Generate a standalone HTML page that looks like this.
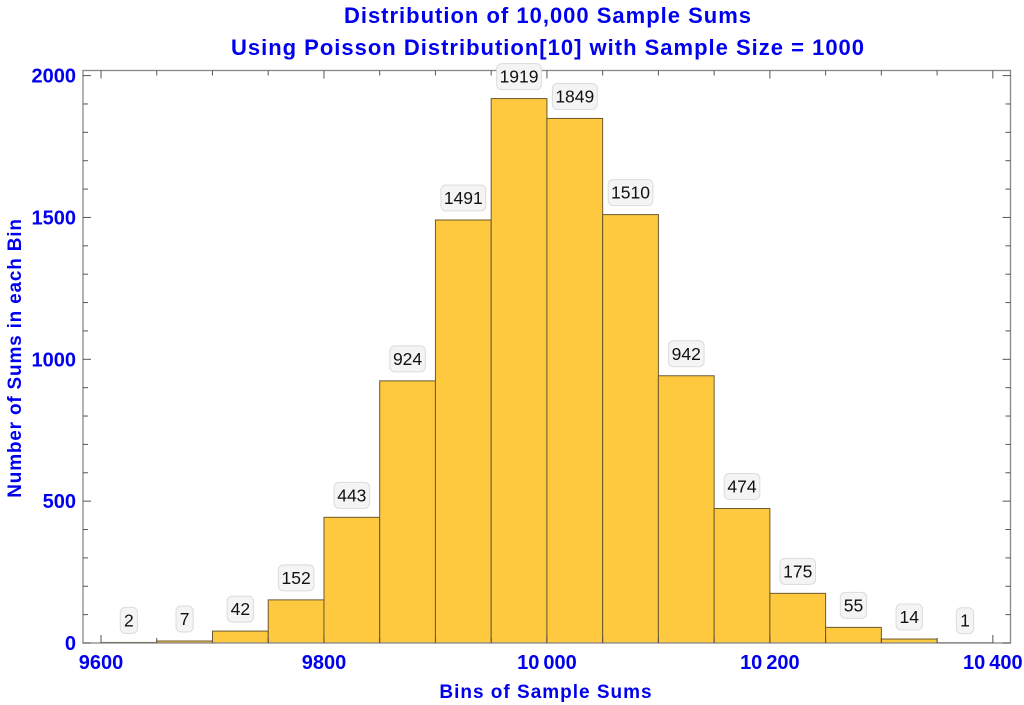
<!DOCTYPE html>
<html><head><meta charset="utf-8"><style>
body{margin:0;background:#fff;}
svg{display:block;font-family:"Liberation Sans",Arial,sans-serif;}
</style></head><body>
<svg id="s" width="1024" height="705" xmlns="http://www.w3.org/2000/svg">
<rect x="0" y="0" width="1024" height="705" fill="#fff"/>
<text x="548" y="23" text-anchor="middle" font-size="22" font-weight="bold" letter-spacing="1" fill="#0000ee">Distribution of 10,000 Sample Sums</text>
<text x="548" y="55" text-anchor="middle" font-size="22" font-weight="bold" letter-spacing="1" fill="#0000ee">Using Poisson Distribution[10] with Sample Size = 1000</text>
<text x="546" y="698" text-anchor="middle" font-size="19" font-weight="bold" letter-spacing="1" fill="#0000ee">Bins of Sample Sums</text>
<text transform="translate(21,358) rotate(-90)" text-anchor="middle" font-size="19" font-weight="bold" letter-spacing="0.8" fill="#0000ee">Number of Sums in each Bin</text>
<g id="g"></g>
</svg>
<script>
var g=document.getElementById('g'),h='';
function X(v){return 101+(v-9600)*1.1148;}
function Y(v){return 643-v*0.2837;}
var d=[2,7,42,152,443,924,1491,1919,1849,1510,942,474,175,55,14,1];
for(var i=0;i<d.length;i++){
 var x0=X(9600+50*i),x1=X(9650+50*i),y=Y(d[i]);
 h+='<rect x="'+x0+'" y="'+y+'" width="'+(x1-x0)+'" height="'+(643-y)+'" fill="#fec93f" stroke="#6b5a30" stroke-width="1"/>';
}
h+='<rect x="83" y="70.5" width="927.5" height="572.5" fill="none" stroke="#888" stroke-width="1.3"/>';
for(var v=9600;v<=10400;v+=50){var x=X(v),L=(v%200==0)?8:5;
 h+='<line x1="'+x+'" y1="643" x2="'+x+'" y2="'+(643-L)+'" stroke="#555"/>';
 h+='<line x1="'+x+'" y1="70.5" x2="'+x+'" y2="'+(70.5+L)+'" stroke="#555"/>';
 if(v%200==0){h+='<text x="'+x+'" y="669" text-anchor="middle" font-size="20" font-weight="bold" fill="#0000ee">'+(v>=10000?(''+v).slice(0,2)+'\u2009'+(''+v).slice(2):v)+'</text>';}
}
for(var v=0;v<=2000;v+=100){var y=Y(v),L=(v%500==0)?8:5;
 h+='<line x1="83" y1="'+y+'" x2="'+(83+L)+'" y2="'+y+'" stroke="#555"/>';
 h+='<line x1="1010.5" y1="'+y+'" x2="'+(1010.5-L)+'" y2="'+y+'" stroke="#555"/>';
 if(v%500==0)h+='<text x="76" y="'+(y+7)+'" text-anchor="end" font-size="20" font-weight="bold" fill="#0000ee">'+v+'</text>';
}
for(var i=0;i<d.length;i++){
 var cx=(X(9600+50*i)+X(9650+50*i))/2,cy=Y(d[i])-22,s=''+d[i],w=s.length*9.2+8;
 h+='<rect x="'+(cx-w/2)+'" y="'+(cy-13)+'" width="'+w+'" height="26" rx="5" fill="#f4f4f4" stroke="#dcdcdc"/>';
 h+='<text x="'+cx+'" y="'+(cy+6)+'" text-anchor="middle" font-size="17.5" fill="#111">'+s+'</text>';
}
g.innerHTML=h;
</script>
</body></html>
